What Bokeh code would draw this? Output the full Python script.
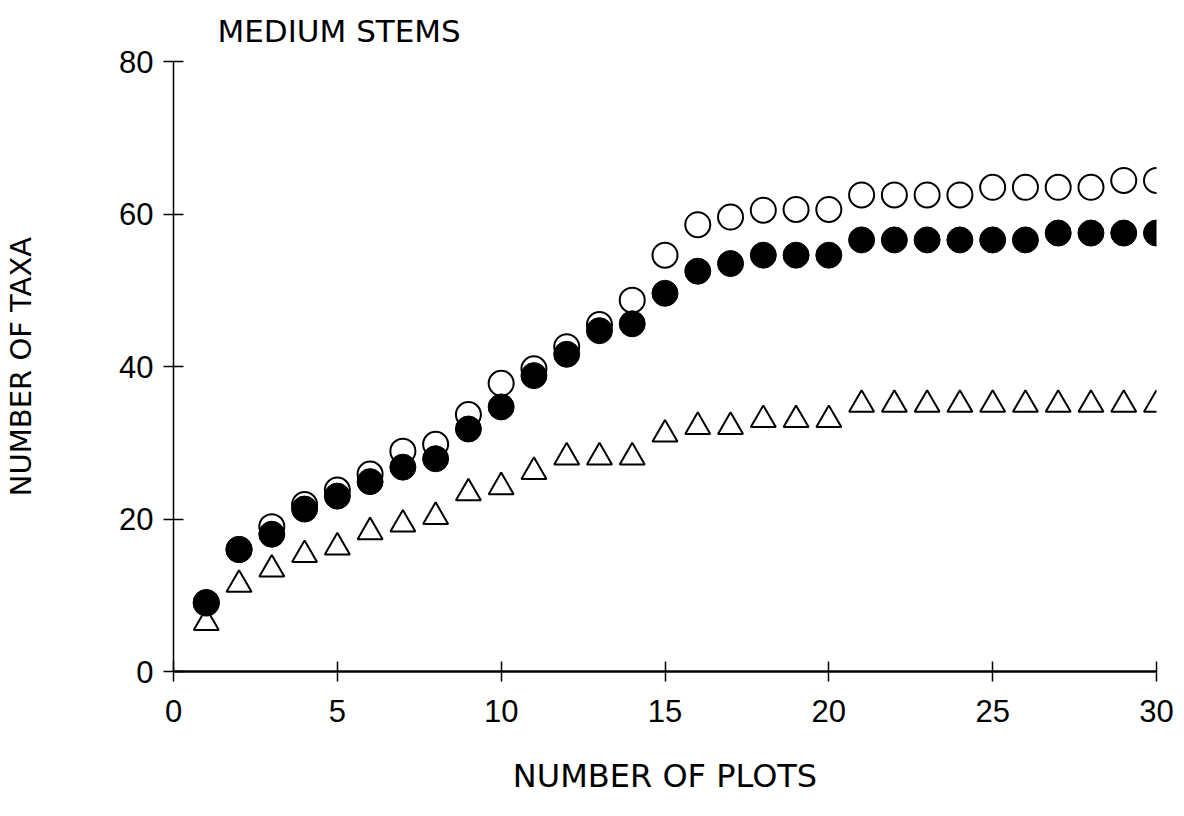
from bokeh.plotting import figure
from bokeh.models import Range1d, FixedTicker, Title
from bokeh.embed import file_html
from bokeh.resources import INLINE

# ---- data ----
plots = list(range(1, 31))
open_circles = [9, 16, 19.0, 21.9, 23.8, 25.9, 28.9, 29.8, 33.7, 37.8,
                39.7, 42.6, 45.5, 48.7, 54.6, 58.6, 59.6, 60.5, 60.6, 60.6,
                62.5, 62.5, 62.5, 62.5, 63.5, 63.5, 63.5, 63.5, 64.4, 64.4]
filled_circles = [9.05, 16.0, 18.0, 21.3, 23.0, 24.9, 26.8, 27.9, 31.8, 34.7,
                  38.8, 41.6, 44.7, 45.6, 49.6, 52.5, 53.5, 54.6, 54.6, 54.6,
                  56.6, 56.6, 56.6, 56.6, 56.6, 56.6, 57.5, 57.5, 57.5, 57.5]
triangles = [6.4, 11.4, 13.4, 15.3, 16.3, 18.3, 19.3, 20.3, 23.4, 24.2,
             26.2, 28.1, 28.1, 28.1, 31.1, 32.1, 32.1, 33.0, 33.0, 33.0,
             35.0, 35.0, 35.0, 35.0, 35.0, 35.0, 35.0, 35.0, 35.0, 35.0]
x_ticks = [0, 5, 10, 15, 20, 25, 30]
y_ticks = [0, 20, 40, 60, 80]
title_text = "MEDIUM STEMS"
x_label = "NUMBER OF PLOTS"
y_label = "NUMBER OF TAXA"

FONT = "DejaVu Sans"
TICK_FONT = "Liberation Sans"

p = figure(width=1176, height=808, output_backend="svg", toolbar_location=None,
           x_range=Range1d(0, 30), y_range=Range1d(0, 80),
           min_border_left=173, min_border_right=20,
           min_border_top=61, min_border_bottom=137)
p.outline_line_color = None
p.grid.visible = False
p.background_fill_color = "white"
p.border_fill_color = "white"

t = Title(text=title_text, align="left", offset=44, vertical_align="top",
          text_font=FONT, text_font_size="31px", text_font_style="normal",
          text_color="black", standoff=22)
p.add_layout(t, "above")

for ax in (p.xaxis[0], p.yaxis[0]):
    ax.major_tick_in = 10
    ax.major_tick_out = 10
    ax.minor_tick_in = 0
    ax.minor_tick_out = 0
    ax.major_tick_line_color = "black"
    ax.major_tick_line_width = 1.5
    ax.axis_line_color = "black"
    ax.major_label_text_font = TICK_FONT
    ax.major_label_text_font_size = "31px"
    ax.major_label_text_color = "black"
    ax.axis_label_text_font = FONT
    ax.axis_label_text_font_style = "normal"
    ax.axis_label_text_color = "black"

p.xaxis[0].ticker = FixedTicker(ticks=x_ticks)
p.yaxis[0].ticker = FixedTicker(ticks=y_ticks)
p.xaxis[0].axis_line_width = 2.5
p.yaxis[0].axis_line_width = 1.5
p.xaxis[0].major_label_standoff = 18
p.yaxis[0].major_label_standoff = 10
p.xaxis[0].axis_label = x_label
p.yaxis[0].axis_label = y_label
p.xaxis[0].axis_label_text_font_size = "32px"
p.yaxis[0].axis_label_text_font_size = "29px"
p.xaxis[0].axis_label_standoff = 32
p.yaxis[0].axis_label_standoff = 78

p.scatter(plots, triangles, marker="triangle", size=25,
          fill_color="white", line_color="black", line_width=2)
p.scatter(plots, open_circles, marker="circle", size=25,
          fill_color="white", line_color="black", line_width=2)
p.scatter(plots, filled_circles, marker="circle", size=26,
          fill_color="black", line_color="black", line_width=1)

open("out.html", "w").write(file_html(p, INLINE))
